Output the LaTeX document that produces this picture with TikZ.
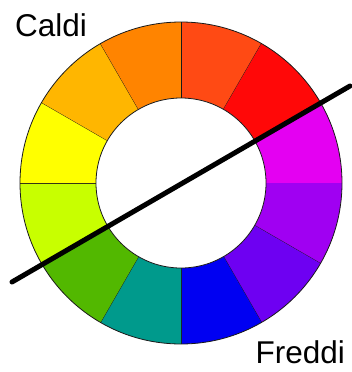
\documentclass[tikz,border=0pt]{standalone}
\usepackage{fontspec}
\setmainfont{Liberation Sans}
\definecolor{cA}{HTML}{FF4A14}
\definecolor{cB}{HTML}{FF0808}
\definecolor{cC}{HTML}{E400F2}
\definecolor{cD}{HTML}{A000F2}
\definecolor{cE}{HTML}{6E00F2}
\definecolor{cF}{HTML}{0000F2}
\definecolor{cG}{HTML}{009A8C}
\definecolor{cH}{HTML}{52B800}
\definecolor{cI}{HTML}{C8FF00}
\definecolor{cJ}{HTML}{FFFF00}
\definecolor{cK}{HTML}{FFB600}
\definecolor{cL}{HTML}{FF8400}
\begin{document}
\begin{tikzpicture}[x=1pt,y=-1pt,
  seg/.style={draw=black!80!gray, line width=0.8pt},
  lbl/.style={font=\fontsize{31.5}{35}\selectfont, inner sep=1pt, text=black}]
\useasboundingbox (0,0) rectangle (351,372);
\coordinate (c) at (181,183);
\def\Ro{161}
\def\Ri{85}
\foreach \a/\col in {60/cA,30/cB,0/cC,-30/cD,-60/cE,-90/cF,-120/cG,-150/cH,-180/cI,150/cJ,120/cK,90/cL}{
  \fill[\col] ([shift={(c)}]-\a:\Ri) -- ([shift={(c)}]-\a:\Ro) arc[start angle=-\a, end angle=-\a-30, radius=\Ro] -- ([shift={(c)}]-\a-30:\Ri) arc[start angle=-\a-30, end angle=-\a, radius=\Ri] -- cycle;
  \draw[seg] ([shift={(c)}]-\a:\Ri) -- ([shift={(c)}]-\a:\Ro);
}
\draw[seg] (c) circle[radius=\Ro];
\draw[seg, fill=white] (c) circle[radius=\Ri];
\coordinate (p) at (12,282);
\coordinate (q) at (350,86);
\draw[line width=5pt, line cap=round] (p) -- (q);
\node[lbl, anchor=base west] (caldi) at (14,36) {Caldi};
\node[lbl, anchor=base east, fill=white] (freddi) at (346,363) {Freddi};
\end{tikzpicture}
\end{document}
